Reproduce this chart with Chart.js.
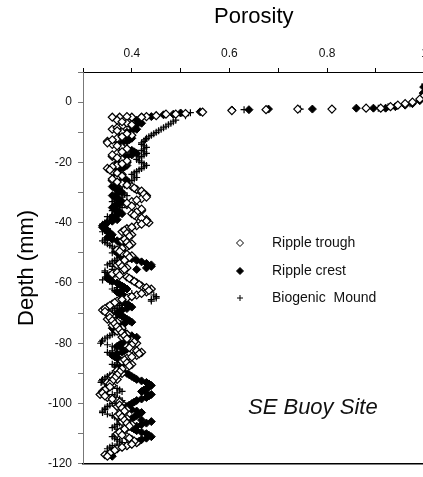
<!DOCTYPE html>
<html>
<head>
<meta charset="utf-8">
<script src="https://cdn.jsdelivr.net/npm/chart.js@4/dist/chart.umd.min.js"></script>
<style>
  html, body { margin: 0; padding: 0; background: #fff; overflow: hidden; }
  #wrap { position: absolute; left: 0; top: 0; width: 435px; height: 477px; }
</style>
</head>
<body>
<div id="wrap"><canvas id="porosityChart" width="435" height="477"></canvas></div>
<script>
// Подписи серий
const seriesLabels = ['Ripple trough', 'Ripple crest', 'Biogenic  Mound'];

// Приповерхностный участок (глубина, мм / пористость)
const troughSurfaceDepth = [2, 1, 0, -0.5, -1, -1.5, -2, -2, -2.3, -2.3, -2.5, -2.8, -3.3, -3.8, -4, -4, -4.5, -4.8, -5, -5, -4.8, -5, -5];
const troughSurfacePorosity = [0.998, 0.99, 0.975, 0.96, 0.945, 0.93, 0.91, 0.88, 0.81, 0.74, 0.675, 0.605, 0.545, 0.51, 0.49, 0.47, 0.45, 0.43, 0.42, 0.40, 0.39, 0.375, 0.36];

const crestSurfaceDepth = [5, 3, 2, 0.5, -0.5, -1, -1.5, -2, -2, -2, -2.3, -2.3, -2.5, -2.6, -3.2, -3.6, -4, -4.2, -4.8, -5, -5.3];
const crestSurfacePorosity = [0.998, 0.997, 0.999, 0.99, 0.975, 0.96, 0.94, 0.92, 0.895, 0.86, 0.77, 0.68, 0.64, 0.605, 0.54, 0.50, 0.485, 0.465, 0.44, 0.42, 0.40];

const moundSurfaceDepth = [6, 3.5, -0.5, -1.5, -2, -2.3, -2.5, -3.5, -4.5];
const moundSurfacePorosity = [1.0, 0.999, 0.97, 0.925, 0.905, 0.745, 0.63, 0.52, 0.51];

// Основной профиль: целые миллиметры
const columnDepth = [
  -6, -7, -8, -9, -10, -11, -12, -13, -14, -15,
  -16, -17, -18, -19, -20, -21, -22, -23, -24, -25,
  -26, -27, -28, -29, -30, -31, -32, -33, -34, -35,
  -36, -37, -38, -39, -40, -41, -42, -43, -44, -45,
  -46, -47, -48, -49, -50, -51, -52, -53, -54, -55,
  -56, -57, -58, -59, -60, -61, -62, -63, -64, -65,
  -66, -67, -68, -69, -70, -71, -72, -73, -74, -75,
  -76, -77, -78, -79, -80, -81, -82, -83, -84, -85,
  -86, -87, -88, -89, -90, -91, -92, -93, -94, -95,
  -96, -97, -98, -99, -100, -101, -102, -103, -104, -105,
  -106, -107, -108, -109, -110, -111, -112, -113, -114, -115,
  -116, -117
];

// Основной профиль: половинки миллиметров
const columnDepthHalf = [
  -6.5, -7.5, -8.5, -9.5, -10.5, -11.5, -12.5, -13.5, -14.5, -15.5,
  -16.5, -17.5, -18.5, -19.5, -20.5, -21.5, -22.5, -23.5, -24.5, -25.5,
  -26.5, -27.5, -28.5, -29.5, -30.5, -31.5, -32.5, -33.5, -34.5, -35.5,
  -36.5, -37.5, -38.5, -39.5, -40.5, -41.5, -42.5, -43.5, -44.5, -45.5,
  -46.5, -47.5, -48.5, -49.5, -50.5, -51.5, -52.5, -53.5, -54.5, -55.5,
  -56.5, -57.5, -58.5, -59.5, -60.5, -61.5, -62.5, -63.5, -64.5, -65.5,
  -66.5, -67.5, -68.5, -69.5, -70.5, -71.5, -72.5, -73.5, -74.5, -75.5,
  -76.5, -77.5, -78.5, -79.5, -80.5, -81.5, -82.5, -83.5, -84.5, -85.5,
  -86.5, -87.5, -88.5, -89.5, -90.5, -91.5, -92.5, -93.5, -94.5, -95.5,
  -96.5, -97.5, -98.5, -99.5, -100.5, -101.5, -102.5, -103.5, -104.5, -105.5,
  -106.5, -107.5, -108.5, -109.5, -110.5, -111.5, -112.5, -113.5, -114.5, -115.5,
  -116.5, -117.5
];

const troughPorosity = [
  0.37, 0.39, 0.38, 0.36, 0.38, 0.40, 0.37, 0.35, 0.36, 0.38,
  0.39, 0.37, 0.36, 0.38, 0.39, 0.37, 0.35, 0.36, 0.38, 0.37,
  0.36, 0.38, 0.40, 0.41, 0.42, 0.43, 0.42, 0.40, 0.39, 0.41,
  0.42, 0.40, 0.41, 0.43, 0.435, 0.41, 0.39, 0.38, 0.40, 0.39,
  0.38, 0.40, 0.39, 0.37, 0.38, 0.40, 0.39, 0.38, 0.37, 0.39,
  0.38, 0.36, 0.39, 0.40, 0.41, 0.42, 0.44, 0.43, 0.41, 0.39,
  0.37, 0.36, 0.35, 0.34, 0.35, 0.36, 0.35, 0.37, 0.36, 0.38,
  0.37, 0.39, 0.38, 0.40, 0.41, 0.39, 0.40, 0.42, 0.41, 0.39,
  0.38, 0.40, 0.39, 0.37, 0.38, 0.36, 0.37, 0.35, 0.36, 0.35,
  0.34, 0.335, 0.35, 0.37, 0.38, 0.37, 0.39, 0.38, 0.37, 0.39,
  0.38, 0.40, 0.39, 0.38, 0.37, 0.39, 0.40, 0.41, 0.39, 0.37,
  0.36, 0.345
];
const troughPorosityHalf = [
  0.38, 0.40, 0.37, 0.37, 0.39, 0.38, 0.36, 0.35, 0.37, 0.39,
  0.38, 0.36, 0.37, 0.39, 0.38, 0.36, 0.355, 0.37, 0.38, 0.36,
  0.37, 0.39, 0.405, 0.42, 0.425, 0.43, 0.41, 0.39, 0.40, 0.42,
  0.41, 0.405, 0.42, 0.43, 0.42, 0.40, 0.385, 0.39, 0.395, 0.385,
  0.39, 0.395, 0.38, 0.375, 0.39, 0.395, 0.385, 0.375, 0.38, 0.385,
  0.37, 0.375, 0.395, 0.405, 0.415, 0.43, 0.435, 0.42, 0.40, 0.38,
  0.365, 0.355, 0.345, 0.345, 0.355, 0.355, 0.36, 0.365, 0.37, 0.375,
  0.38, 0.385, 0.39, 0.405, 0.40, 0.395, 0.41, 0.415, 0.40, 0.385,
  0.39, 0.395, 0.38, 0.375, 0.37, 0.365, 0.36, 0.355, 0.355, 0.345,
  0.34, 0.345, 0.36, 0.375, 0.375, 0.38, 0.385, 0.375, 0.38, 0.385,
  0.39, 0.395, 0.385, 0.375, 0.38, 0.395, 0.405, 0.40, 0.38, 0.365,
  0.355, 0.35
];

const crestPorosity = [
  0.41, 0.42, 0.40, 0.41, 0.39, 0.38, 0.40, 0.39, 0.37, 0.38,
  0.40, 0.41, 0.39, 0.38, 0.37, 0.39, 0.38, 0.36, 0.37, 0.38,
  0.39, 0.37, 0.36, 0.37, 0.38, 0.36, 0.37, 0.38, 0.37, 0.36,
  0.37, 0.38, 0.36, 0.37, 0.35, 0.34, 0.345, 0.35, 0.36, 0.35,
  0.37, 0.38, 0.39, 0.38, 0.37, 0.38, 0.40, 0.42, 0.44, 0.43,
  0.38, 0.36, 0.35, 0.355, 0.37, 0.38, 0.39, 0.37, 0.38, 0.39,
  0.38, 0.39, 0.40, 0.38, 0.37, 0.38, 0.39, 0.40, 0.37, 0.36,
  0.38, 0.39, 0.41, 0.40, 0.38, 0.37, 0.39, 0.38, 0.36, 0.37,
  0.38, 0.39, 0.37, 0.38, 0.39, 0.40, 0.41, 0.43, 0.44, 0.43,
  0.42, 0.44, 0.43, 0.41, 0.40, 0.39, 0.40, 0.42, 0.41, 0.40,
  0.44, 0.42, 0.40, 0.41, 0.43, 0.44, 0.42, 0.41, 0.39, 0.37,
  0.36, 0.35
];
const crestPorosityHalf = [
  0.415, 0.41, 0.405, 0.40, 0.385, 0.39, 0.395, 0.38, 0.375, 0.39,
  0.405, 0.40, 0.385, 0.375, 0.38, 0.385, 0.37, 0.365, 0.375, 0.385,
  0.38, 0.365, 0.365, 0.375, 0.37, 0.365, 0.375, 0.375, 0.365, 0.365,
  0.375, 0.37, 0.365, 0.36, 0.345, 0.34, 0.35, 0.355, 0.355, 0.36,
  0.375, 0.385, 0.385, 0.375, 0.375, 0.39, 0.41, 0.43, 0.44, 0.41,
  0.37, 0.355, 0.35, 0.36, 0.375, 0.385, 0.38, 0.375, 0.385, 0.385,
  0.385, 0.395, 0.39, 0.375, 0.375, 0.385, 0.395, 0.385, 0.365, 0.37,
  0.385, 0.40, 0.405, 0.39, 0.375, 0.38, 0.385, 0.37, 0.365, 0.375,
  0.385, 0.38, 0.375, 0.385, 0.395, 0.405, 0.42, 0.435, 0.435, 0.425,
  0.43, 0.435, 0.42, 0.405, 0.395, 0.395, 0.41, 0.415, 0.405, 0.42,
  0.43, 0.41, 0.405, 0.42, 0.435, 0.43, 0.415, 0.40, 0.38, 0.365,
  0.355, 0.36
];

const moundPorosity = [
  0.49, 0.48, 0.47, 0.46, 0.45, 0.44, 0.43, 0.425, 0.42, 0.43,
  0.42, 0.43, 0.42, 0.41, 0.42, 0.43, 0.42, 0.41, 0.40, 0.41,
  0.40, 0.39, 0.38, 0.37, 0.38, 0.39, 0.37, 0.36, 0.37, 0.38,
  0.36, 0.37, 0.35, 0.36, 0.345, 0.34, 0.35, 0.34, 0.36, 0.35,
  0.34, 0.35, 0.36, 0.37, 0.36, 0.38, 0.37, 0.36, 0.35, 0.37,
  0.345, 0.35, 0.36, 0.34, 0.37, 0.38, 0.36, 0.37, 0.445, 0.45,
  0.44, 0.38, 0.37, 0.36, 0.35, 0.37, 0.36, 0.38, 0.37, 0.36,
  0.37, 0.36, 0.35, 0.34, 0.336, 0.36, 0.37, 0.35, 0.36, 0.37,
  0.38, 0.36, 0.37, 0.38, 0.36, 0.35, 0.34, 0.337, 0.35, 0.37,
  0.38, 0.36, 0.37, 0.38, 0.36, 0.35, 0.345, 0.34, 0.36, 0.37,
  0.38, 0.37, 0.36, 0.38, 0.37, 0.36, 0.37, 0.38, 0.36, 0.35,
  0.36, 0.35
];
const moundPorosityHalf = [
  0.485, 0.475, 0.465, 0.455, 0.445, 0.435, 0.428, 0.42, 0.425, 0.425,
  0.425, 0.425, 0.415, 0.415, 0.425, 0.425, 0.415, 0.405, 0.405, 0.405,
  0.395, 0.385, 0.375, 0.375, 0.385, 0.38, 0.365, 0.365, 0.375, 0.37,
  0.365, 0.36, 0.355, 0.35, 0.34, 0.345, 0.345, 0.35, 0.355, 0.345,
  0.345, 0.355, 0.365, 0.365, 0.37, 0.375, 0.365, 0.355, 0.36, 0.36,
  0.345, 0.355, 0.35, 0.355, 0.375, 0.37, 0.365, 0.40, 0.45, 0.44,
  0.39, 0.375, 0.365, 0.355, 0.36, 0.365, 0.37, 0.375, 0.365, 0.365,
  0.365, 0.355, 0.345, 0.338, 0.35, 0.365, 0.36, 0.355, 0.365, 0.375,
  0.37, 0.365, 0.375, 0.37, 0.355, 0.345, 0.338, 0.345, 0.36, 0.375,
  0.37, 0.365, 0.375, 0.37, 0.355, 0.345, 0.34, 0.35, 0.365, 0.375,
  0.375, 0.365, 0.37, 0.375, 0.365, 0.365, 0.375, 0.37, 0.355, 0.355,
  0.355, 0.36
];

// Пары точек {x: пористость, y: глубина}
function toPoints(depthLists, valueLists) {
  const pts = [];
  depthLists.forEach((depths, k) => {
    depths.forEach((d, i) => pts.push({ x: valueLists[k][i], y: d }));
  });
  return pts;
}

const FONT = '"Liberation Sans", Arial, sans-serif';

function diamond(c, x, y, r) {
  c.beginPath();
  c.moveTo(x, y - r); c.lineTo(x + r, y); c.lineTo(x, y + r); c.lineTo(x - r, y);
  c.closePath();
}

// Легенда внутри области графика и подпись участка
const insideLabels = {
  id: 'insideLabels',
  afterDatasetsDraw(chart) {
    const c = chart.ctx;
    const a = chart.chartArea;
    const mx = a.left + 157, tx = a.left + 189;
    const rows = [a.top + 171, a.top + 199, a.top + 226];
    c.save();
    c.lineWidth = 1;
    c.strokeStyle = '#000';
    diamond(c, mx, rows[0], 3.5);
    c.fillStyle = '#fff'; c.fill(); c.stroke();
    diamond(c, mx, rows[1], 3.5);
    c.fillStyle = '#000'; c.fill(); c.stroke();
    c.beginPath();
    c.moveTo(mx - 3, rows[2]); c.lineTo(mx + 3, rows[2]);
    c.moveTo(mx, rows[2] - 3); c.lineTo(mx, rows[2] + 3);
    c.stroke();

    c.fillStyle = '#111';
    c.font = '14px ' + FONT;
    c.textBaseline = 'middle';
    c.textAlign = 'left';
    chart.data.datasets.forEach((ds, i) => c.fillText(ds.label, tx, rows[i]));

    c.font = 'italic 22px ' + FONT;
    c.fillText('SE Buoy Site', a.left + 165, a.top + 336);
    c.restore();
  }
};

const chart = new Chart(document.getElementById('porosityChart'), {
  type: 'scatter',
  data: {
    datasets: [
      {
        label: seriesLabels[0],
        data: toPoints([troughSurfaceDepth, columnDepth, columnDepthHalf], [troughSurfacePorosity, troughPorosity, troughPorosityHalf]),
        pointStyle: 'rectRot',
        pointRadius: 4,
        backgroundColor: '#fff',
        borderColor: '#000',
        borderWidth: 1.2
      },
      {
        label: seriesLabels[1],
        data: toPoints([crestSurfaceDepth, columnDepth, columnDepthHalf], [crestSurfacePorosity, crestPorosity, crestPorosityHalf]),
        pointStyle: 'rectRot',
        pointRadius: 4,
        backgroundColor: '#000',
        borderColor: '#000',
        borderWidth: 1
      },
      {
        label: seriesLabels[2],
        data: toPoints([moundSurfaceDepth, columnDepth, columnDepthHalf], [moundSurfacePorosity, moundPorosity, moundPorosityHalf]),
        pointStyle: 'cross',
        pointRadius: 3.5,
        backgroundColor: '#000',
        borderColor: '#000',
        borderWidth: 1.2
      }
    ]
  },
  options: {
    responsive: false,
    animation: false,
    layout: { padding: 0 },
    plugins: {
      legend: { display: false },
      tooltip: { enabled: false }
    },
    scales: {
      x: {
        type: 'linear',
        position: 'top',
        min: 0.3,
        max: 1.0,
        afterFit: s => { s.height = 72; },
        title: {
          display: true,
          text: 'Porosity',
          color: '#000',
          font: { family: FONT, size: 22 },
          padding: { top: 4, bottom: 0 }
        },
        ticks: {
          stepSize: 0.1,
          color: '#111',
          padding: 7,
          maxRotation: 0,
          font: { family: FONT, size: 12 },
          callback: v => {
            const k = Math.round(v * 10);
            if (k % 2 !== 0 || k < 4) return '';
            return k === 10 ? '1' : (k / 10).toFixed(1);
          }
        },
        grid: { drawOnChartArea: false, tickLength: 4, color: '#000' },
        border: { color: '#000', width: 1 }
      },
      x2: {
        type: 'linear',
        position: 'bottom',
        min: 0.3,
        max: 1.0,
        afterFit: s => { s.height = 6; },
        ticks: { display: false },
        grid: { display: false },
        border: { color: '#000', width: 1.5 }
      },
      y: {
        type: 'linear',
        position: 'left',
        min: -120,
        max: 10,
        afterFit: s => { s.width = 83; },
        title: {
          display: true,
          text: 'Depth (mm)',
          color: '#000',
          font: { family: FONT, size: 22 },
          padding: { top: 14, bottom: 0 }
        },
        ticks: {
          stepSize: 10,
          color: '#111',
          padding: 6,
          font: { family: FONT, size: 12 },
          callback: v => (Math.round(v) % 20 === 0 ? String(Math.round(v)) : '')
        },
        grid: { drawOnChartArea: false, tickLength: 5, color: '#777' },
        border: { color: '#777', width: 1 }
      }
    }
  },
  plugins: [insideLabels]
});
</script>
</body>
</html>
